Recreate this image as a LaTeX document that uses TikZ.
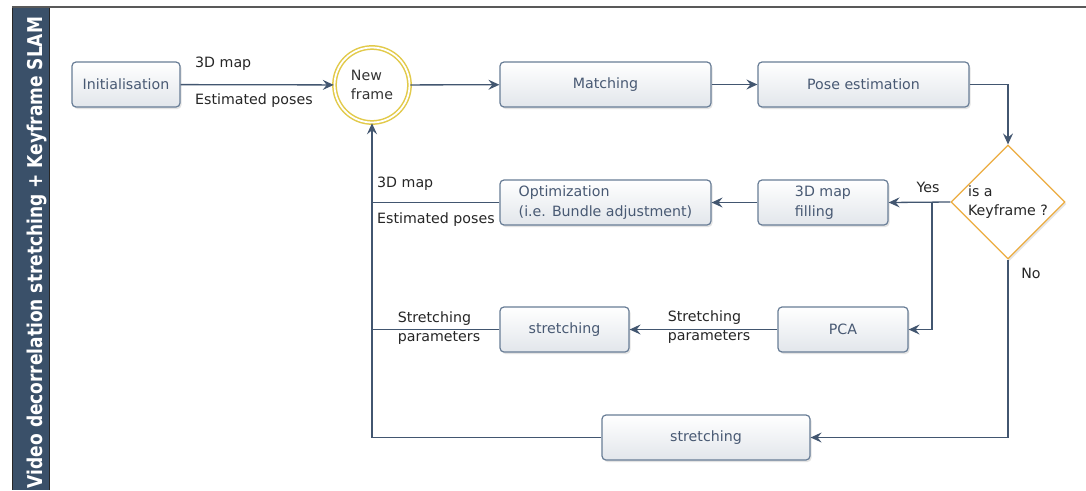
\documentclass[tikz,border=0pt]{standalone}
\usepackage{graphicx}
\usepackage{fontspec}
\setmainfont{DejaVu Sans}
\usetikzlibrary{shapes.geometric,shadows,arrows.meta}
\definecolor{bandblue}{RGB}{58,80,105}
\definecolor{boxline}{RGB}{104,125,150}
\definecolor{boxtext}{RGB}{72,89,115}
\definecolor{boxshade}{RGB}{226,230,235}
\definecolor{arrowblue}{RGB}{66,86,112}
\definecolor{keyorange}{RGB}{236,172,64}
\definecolor{frameyellow}{RGB}{226,202,74}
\newcommand{\diagfont}{\fontsize{14.2}{19.5}\selectfont}

\begin{document}
\begin{tikzpicture}[x=1pt, y=-1pt,
        procbox/.style={rectangle, rounded corners=4pt, draw=boxline, line width=1.2pt, top color=white, bottom color=boxshade, minimum height=45pt, text=boxtext, font=\diagfont, align=left, drop shadow={shadow xshift=1.5pt, shadow yshift=-2pt, opacity=0.22}},
        keybox/.style={diamond, aspect=1, draw=keyorange, line width=1.2pt, fill=white, minimum width=114pt, minimum height=114pt, inner sep=-2pt, font=\diagfont, text=black!85, align=left, drop shadow={shadow xshift=1.5pt, shadow yshift=-2pt, opacity=0.2}},
        framecirc/.style={circle, draw=frameyellow, double=white, double distance=1.8pt, line width=1.5pt, fill=white, minimum size=75pt, inner sep=0pt, font=\diagfont, text=black!80, align=left},
        lbl/.style={font=\diagfont, text=black!85, align=left, inner sep=0pt},
        link/.style={draw=arrowblue, line width=1.3pt},
        arr/.style={link, -{Stealth[length=11pt, width=10pt, inset=4pt]}}]
        \useasboundingbox (0,0) rectangle (1086,490);
        \fill[white] (0,0) rectangle (1086,490);
        \fill[bandblue] (12,6) rectangle (50,490);
        \draw[black!85, line width=1.3pt] (12.6,6) -- (12.6,490);
        \draw[black!85, line width=1.3pt] (49.3,6) -- (49.3,490);
        \draw[black!65, line width=2pt] (12,6.5) -- (1086,6.5);
        \node[rotate=90, anchor=base, inner sep=0pt, text=white] (bandtitle) at (42,252.5) {\resizebox{471pt}{15.5pt}{\bfseries Video decorrelation stretching + Keyframe SLAM}};

        \node[procbox, minimum width=108pt] (init) at (126,84.5) {Initialisation};
        \node[framecirc] (newframe) at (372,85) {New\\frame};
        \node[procbox, minimum width=211pt] (match) at (605.5,84.5) {Matching};
        \node[procbox, minimum width=211pt] (pose) at (863.5,84.5) {Pose estimation};
        \node[keybox] (keyf) at (1008,202) {is a\\Keyframe ?};
        \node[procbox, minimum width=130pt] (mapfill) at (823,202.5) {3D map\\filling};
        \node[procbox, minimum width=211pt] (optim) at (605.5,202.5) {Optimization\\(i.e. Bundle adjustment)};
        \node[procbox, minimum width=130pt] (pca) at (843,329.5) {PCA};
        \node[procbox, minimum width=129pt] (stretchA) at (564.5,329.5) {stretching};
        \node[procbox, minimum width=208pt] (stretchB) at (706,437.5) {stretching};

        \node[lbl, anchor=west] (initmap) at (195,64) {3D map};
        \node[lbl, anchor=west] (initposes) at (195,101) {Estimated poses};
        \node[lbl] (yes) at (928,187) {Yes};
        \node[lbl] (no) at (1031,273) {No};
        \node[lbl, anchor=west] (optmap) at (377,184) {3D map};
        \node[lbl, anchor=west] (optposes) at (377,220) {Estimated poses};
        \node[lbl] (paramA) at (439,328) {Stretching\\parameters};
        \node[lbl] (paramB) at (709,327) {Stretching\\parameters};

        \coordinate (yessplit) at (932,202);
        \draw[arr] (init) -- (newframe);
        \draw[arr] (newframe) -- (match);
        \draw[arr] (match) -- (pose);
        \draw[arr] (pose.east) -| (keyf.north);
        \draw[arr] (keyf.west) -- (mapfill.east);
        \draw[arr] (yessplit) |- (pca.east);
        \draw[arr] (mapfill) -- (optim);
        \draw[link] (optim.west) -- (optim.west -| newframe.south);
        \draw[arr] (pca) -- (stretchA);
        \draw[link] (stretchA.west) -- (stretchA.west -| newframe.south);
        \draw[arr] (keyf.south) |- (stretchB.east);
        \draw[arr] (stretchB.west) -| (newframe.south);
    \end{tikzpicture}
\end{document}
